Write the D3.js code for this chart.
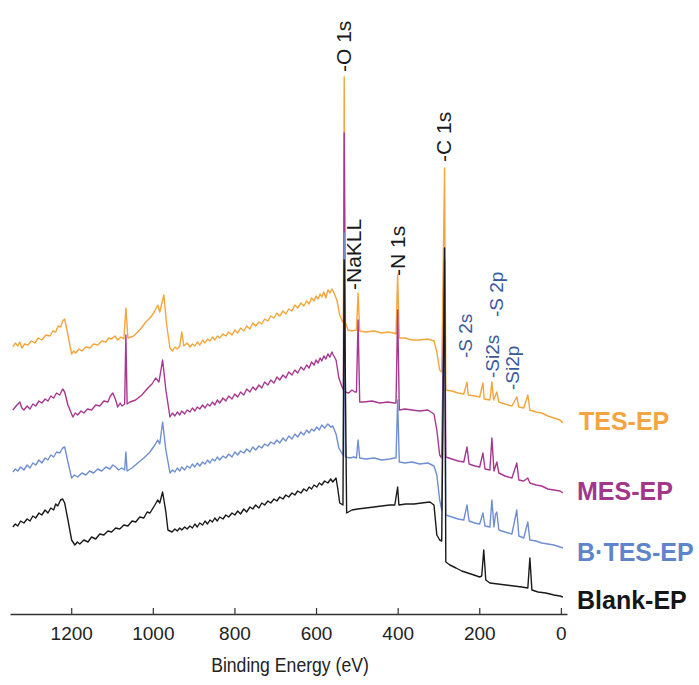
<!DOCTYPE html>
<html lang="en">
<head>
<meta charset="UTF-8">
<title>XPS survey</title>
<script src="https://d3js.org/d3.v7.min.js"></script>
<style>
  body { margin: 0; background: #fff; }
  text { font-family: "Liberation Sans", Arial, sans-serif; }
</style>
</head>
<body>
<div id="chart"></div>
<script>

// binding energy (eV) / intensity (a.u., already stacked)
var tesEP = [
  [1343,267],[1337,271],[1331,268],[1326,272],[1321,266],[1314,270],[1306,269],[1298,273],[1289,271],[1281,276],
  [1272,274],[1262,279],[1252,278],[1245,283],[1238,282],[1232,288],[1226,287],[1221,293],[1216,295],
  [1208,279],[1199,260],[1194,263],[1189,261],[1181,265],[1174,263],[1164,267],[1154,266],[1145,270],[1135,269],
  [1125,273],[1115,272],[1108,276],[1101,275],[1093,278],[1086,274],[1078,277],[1071,275],
  [1066,306],[1061,276],[1047,278],[1032,284],[1017,292],[1007,296],[998,301],[988,309],[983,302],[973,319],
  [966,289],[958,266],[952,263],[946,267],[940,265],[934,268],[929,282],[924,268],[916,271],[909,267],[903,270],
  [897,268],[891,272],[885,269],[878,274],[872,271],[866,275],[860,273],[854,277],[848,274],[842,278],[836,276],
  [828,280],[821,278],[814,282],[806,279],[799,284],[792,281],[785,286],[777,283],[770,288],[762,285],[755,291],
  [748,288],[740,292],[733,290],[726,295],[718,293],[711,298],[703,296],[696,301],[689,298],[681,303],[674,300],
  [667,305],[659,303],[652,309],[645,306],[637,311],[630,308],[623,313],[617,310],[611,316],[605,313],[600,318],
  [595,315],[590,320],[586,317],[581,322],[576,316],[571,324],[566,321],[561,325],[556,321],
  [549,314],[542,299],[535,292],[533,294],[531,537],[528,292],[522,284],[512,283],[501,284],[497,321],
  [493,283],[478,282],[458,283],[439,281],[424,282],[409,281],[404,280],[400,339],[396,276],[382,276],[365,274],
  [346,274],[326,275],[311,273],[304,262],[297,244],[292,242],[285,446],[282,224],[267,223],[252,221],[238,220],
  [230,232],[227,219],[211,218],[199,217],[191,231],[188,215],[174,214],[169,232],[165,214],[157,222],[152,212],
  [137,210],[120,208],[108,217],[103,207],[91,206],[81,219],[76,204],[61,202],[47,201],[32,198],[17,196],[2,194],[-5,191]
];

var mesEP = [
  [1343,204],[1333,209],[1326,212],[1321,206],[1316,204],[1308,208],[1301,205],[1294,210],[1287,208],[1279,213],
  [1272,211],[1264,215],[1257,213],[1250,218],[1243,216],[1236,221],[1228,219],[1221,225],[1216,222],
  [1208,209],[1196,197],[1190,201],[1184,199],[1176,203],[1169,201],[1160,205],[1150,204],[1140,209],[1130,208],
  [1120,213],[1110,212],[1104,218],[1098,221],[1091,214],[1086,207],[1080,211],[1076,208],[1069,210],
  [1066,279],[1063,210],[1056,212],[1042,214],[1027,219],[1012,226],
  [1002,230],[993,236],[985,232],[976,254],[968,224],
  [958,197],[952,201],[946,198],[940,202],[934,199],[929,203],[922,200],[916,204],[909,202],[903,206],[897,203],
  [891,207],[885,205],[878,209],[872,206],[866,210],[860,208],[854,212],[848,209],[842,214],[836,211],[828,216],
  [821,213],[814,218],[806,215],[799,220],[792,217],[785,222],[777,219],[770,225],[762,222],[755,227],[748,224],
  [740,229],[733,226],[726,232],[718,229],[711,234],[703,231],[696,237],[689,234],[681,239],[674,236],[667,242],
  [659,239],[652,244],[645,241],[637,247],[630,244],[623,249],[617,246],[611,252],[605,249],[600,254],[595,251],
  [590,256],[586,253],[581,258],[576,255],[571,260],[566,257],[561,262],[559,260],
  [551,254],[544,236],[537,228],[533,224],[531,481],[528,222],[520,221],[512,224],[505,222],
  [501,222],[497,294],[493,212],[483,212],[463,213],[444,211],[424,212],[409,211],[404,211],[400,304],[396,204],
  [382,205],[365,204],[346,203],[326,204],[311,200],[304,184],[297,159],[292,156],[285,354],[282,157],[267,155],
  [252,153],[238,152],[230,167],[225,150],[211,148],[199,147],[191,161],[186,145],[174,144],[169,176],[164,143],
  [157,152],[152,141],[137,138],[120,136],[108,151],[103,134],[91,133],[81,136],[76,131],[61,129],[47,128],
  [32,125],[17,124],[2,123],[-5,121]
];

var btesEP = [
  [1343,142],[1337,145],[1331,143],[1324,147],[1316,144],[1308,149],[1301,146],[1294,151],[1287,149],[1279,154],
  [1272,151],[1264,156],[1257,154],[1250,159],[1243,157],[1236,162],[1228,161],[1221,166],[1216,167],
  [1208,152],[1199,136],[1192,139],[1184,137],[1174,141],[1164,139],[1155,143],[1145,141],[1135,145],[1125,143],
  [1115,147],[1105,145],[1098,149],[1091,147],[1084,144],[1076,146],[1069,144],
  [1066,162],[1063,143],[1051,146],[1037,151],[1022,156],[1007,162],[995,169],[988,174],[983,170],
  [976,192],[968,164],
  [958,141],[952,144],[946,142],[940,146],[934,143],[929,147],[922,144],[916,148],[909,146],[903,150],[897,147],
  [891,151],[885,148],[878,152],[872,150],[866,154],[860,151],[854,155],[848,153],[842,157],[836,154],[828,158],
  [821,156],[814,160],[806,157],[799,162],[792,159],[785,163],[777,161],[770,165],[762,162],[755,167],[748,164],
  [740,168],[733,166],[726,170],[718,168],[711,172],[703,170],[696,174],[689,171],[681,176],[674,173],[667,178],
  [659,175],[652,180],[645,177],[637,182],[630,179],[623,184],[617,181],[611,185],[605,183],[598,187],[592,184],
  [586,189],[579,186],[571,190],[564,187],[559,188],
  [551,180],[544,166],[537,161],[533,159],[531,381],[528,157],[517,156],[507,157],[501,156],[497,174],[493,156],
  [478,155],[458,156],[439,154],[419,155],[409,156],[404,156],[400,214],[396,152],[382,151],[365,152],[346,150],
  [326,151],[311,148],[304,139],[297,114],[292,104],[285,334],[282,99],[267,97],[252,95],[238,94],[230,109],
  [225,93],[211,91],[199,90],[191,101],[186,88],[174,87],[169,114],[164,87],[160,100],[157,102],[152,84],[137,82],
  [120,80],[108,104],[103,78],[91,76],[81,92],[76,74],[61,73],[47,71],[32,70],[17,69],[2,67],[-5,66]
];

var blankEP = [
  [1343,87],[1337,90],[1331,88],[1324,93],[1316,91],[1308,95],[1301,93],[1294,98],[1287,96],[1279,101],
  [1272,99],[1264,104],[1257,101],[1250,106],[1243,104],[1238,110],[1233,108],[1226,114],[1221,115],[1216,111],
  [1208,94],[1199,74],[1191,69],[1185,72],[1179,70],[1169,74],[1159,72],[1150,77],[1140,75],[1130,80],[1120,79],
  [1110,83],[1101,82],[1091,86],[1081,85],[1071,89],[1061,88],[1051,93],[1042,92],[1032,97],[1022,96],[1014,102],
  [1007,101],[995,109],[988,114],[983,111],[976,122],[968,102],[963,84],
  [953,82],[946,85],[940,83],[934,86],[929,84],[922,87],[916,85],[909,88],[903,86],[897,90],[891,87],[885,91],
  [878,89],[872,93],[866,90],[860,94],[854,92],[848,96],[842,93],[836,97],[828,95],[821,99],[814,97],[806,101],
  [799,99],[792,103],[785,100],[777,105],[770,102],[762,107],[755,105],[748,109],[740,106],[733,111],[726,109],
  [718,113],[711,111],[703,115],[696,113],[689,117],[681,115],[674,119],[667,117],[659,121],[652,119],[645,123],
  [637,121],[630,125],[623,123],[617,127],[611,125],[605,129],[598,127],[592,131],[586,129],[579,133],[571,131],
  [564,135],[559,132],[551,136],[547,126],[542,111],[534,109],
  [531,354],[525,101],[512,104],[498,105],[478,106],[458,107],[439,108],[419,109],[407,109],[400,127],[397,109],
  [380,110],[360,110],[341,111],[321,112],[311,109],[304,79],[297,74],[292,73],[285,366],[282,52],[272,49],
  [257,46],[243,43],[228,41],[213,39],[199,37],[194,38],[189,64],[184,34],[174,31],[154,30],[135,29],[115,28],
  [96,27],[81,26],[76,56],[71,24],[56,22],[37,21],[17,19],[2,18],[-5,17]
];

var seriesNames = ["TES-EP", "MES-EP", "B\u00b7TES-EP", "Blank-EP"];
var seriesData = [tesEP, mesEP, btesEP, blankEP];
var seriesColors = ["#f4a53c", "#a8388f", "#6f8fd2", "#1a1a1a"];
var labelColors = ["#f2a540", "#a0378a", "#5f84cc", "#161616"];

var xTicks = [1200, 1000, 800, 600, 400, 200, 0];

var peakNames = ["-O 1s", "-NaKLL", "-N 1s", "-C 1s"];
var peakEnergies = [533, 509, 400, 287];

var sulfurNames = ["-S 2s", "-Si2s", "-S 2p", "-Si2p"];
var sulfurEnergies = [235, 167, 157, 118];


var width = 699, height = 685;

var svg = d3.select("#chart")
  .append("svg")
    .attr("width", width)
    .attr("height", height);

var x = d3.scaleLinear()
  .domain([1350, -15])
  .range([10, 567]);

var y = d3.scaleLinear()
  .domain([0, 600])
  .range([614, 14]);

// axis, ticks point up into the plot
var xAxis = svg.append("g")
  .attr("transform", "translate(0,614)")
  .call(d3.axisBottom(x)
    .tickValues(xTicks)
    .tickFormat(d3.format("d"))
    .tickSizeInner(-6)
    .tickSizeOuter(0)
    .tickPadding(13));

xAxis.select(".domain").attr("stroke", "#333").attr("stroke-width", 1.4);
xAxis.selectAll(".tick line").attr("stroke", "#333").attr("stroke-width", 1.2);
xAxis.selectAll(".tick text")
  .style("font-size", "19px")
  .attr("fill", "#222");

// title is a little condensed in the original
svg.append("text")
  .attr("transform", "translate(290,672) scale(0.84,1)")
  .attr("text-anchor", "middle")
  .style("font-size", "21px")
  .attr("fill", "#222")
  .text("Binding Energy (eV)");

var line = d3.line()
  .x(function(d) { return x(d[0]); })
  .y(function(d) { return y(d[1]); });

// orange first, black last (on top)
seriesData.forEach(function(data, i) {
  svg.append("path")
    .datum(data.slice().sort(function(a, b) { return b[0] - a[0]; }))
    .attr("fill", "none")
    .attr("stroke", seriesColors[i])
    .attr("stroke-width", 1.4)
    .attr("stroke-linejoin", "round")
    .attr("d", line);
});

// series names on the right
var nameY = [430, 500, 561, 609];
svg.selectAll(".sname")
  .data(seriesNames)
  .enter()
  .append("text")
    .attr("class", "sname")
    .attr("x", function(d, i) { return i == 0 ? 579 : 577; })
    .attr("y", function(d, i) { return nameY[i]; })
    .style("font-size", "25px")
    .style("font-weight", "bold")
    .attr("fill", function(d, i) { return labelColors[i]; })
    .text(function(d) { return d; });

// rotated peak labels
var peakBottom = [72, 290, 276, 162];
svg.selectAll(".peak")
  .data(peakNames)
  .enter()
  .append("text")
    .attr("class", "peak")
    .attr("transform", function(d, i) {
      return "translate(" + x(peakEnergies[i]) + "," + peakBottom[i] + ") rotate(-90)";
    })
    .attr("dy", "0.35em")
    .style("font-size", "21px")
    .attr("fill", "#1a1a1a")
    .text(function(d) { return d; });

var sulfurBottom = [358, 378, 317, 390];
svg.selectAll(".sl")
  .data(sulfurNames)
  .enter()
  .append("text")
    .attr("class", "sl")
    .attr("transform", function(d, i) {
      return "translate(" + x(sulfurEnergies[i]) + "," + sulfurBottom[i] + ") rotate(-90)";
    })
    .attr("dy", "0.35em")
    .style("font-size", "19px")
    .attr("fill", "#3a5a9c")
    .text(function(d) { return d; });

</script>
</body>
</html>
